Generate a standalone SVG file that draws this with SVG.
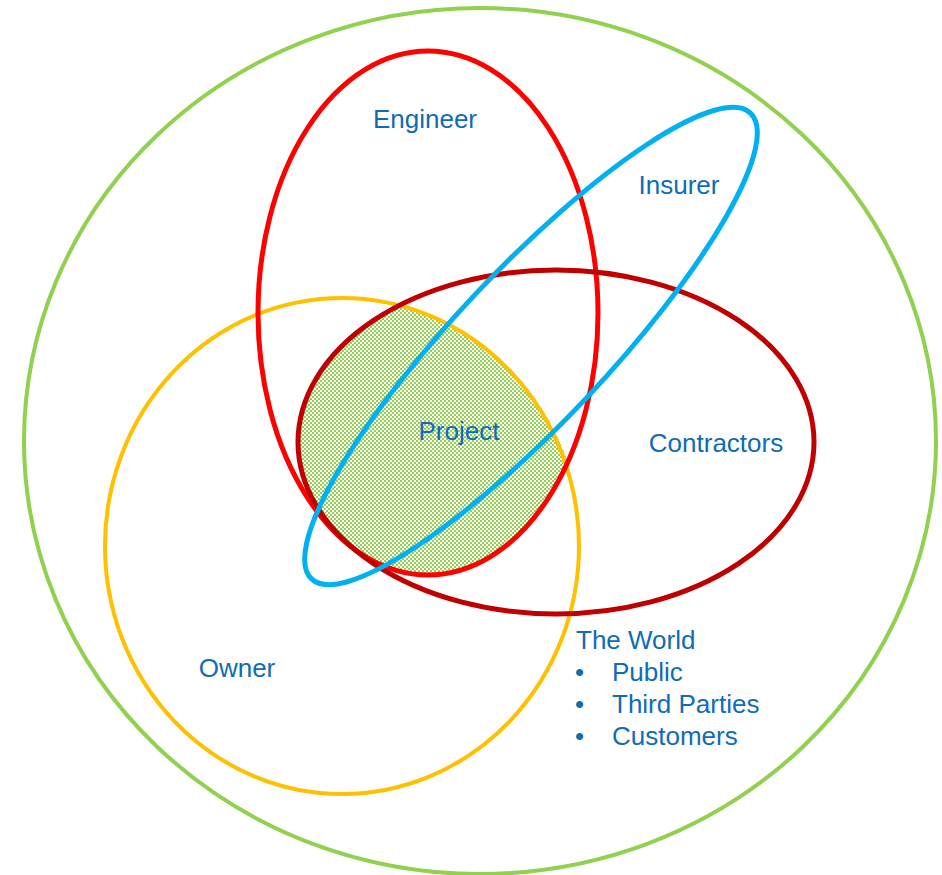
<svg xmlns="http://www.w3.org/2000/svg" width="942" height="875" viewBox="0 0 942 875">
<style>
.ring{fill:none;}
.lbl{font-family:"Liberation Sans",Arial,sans-serif;font-size:26px;fill:#0F6CB6;}
</style>
<defs>
<pattern id="chk" width="4" height="4" patternUnits="userSpaceOnUse">
<rect x="0" y="0" width="2" height="2" fill="#92D050"/>
<rect x="2" y="2" width="2" height="2" fill="#92D050"/>
</pattern>
<clipPath id="cEng"><ellipse cx="428" cy="313" rx="170" ry="262"/></clipPath>
<clipPath id="cCon"><ellipse cx="556" cy="442" rx="258" ry="172"/></clipPath>
<clipPath id="cOwn"><ellipse cx="342" cy="546" rx="240" ry="248"/></clipPath>
</defs>
<rect width="942" height="875" fill="#FFFFFF"/>
<g id="world">
<ellipse class="ring" cx="480" cy="441" rx="456" ry="433" stroke="#92D050" stroke-width="4"/>
</g>
<g id="project-area" clip-path="url(#cEng)">
<g clip-path="url(#cCon)">
<g clip-path="url(#cOwn)">
<rect x="250" y="250" width="400" height="400" fill="url(#chk)"/>
</g>
</g>
</g>
<g id="owner">
<ellipse class="ring" cx="342" cy="546" rx="237" ry="248" stroke="#FFC000" stroke-width="4"/>
</g>
<g id="engineer">
<ellipse class="ring" cx="428" cy="313" rx="170" ry="262" stroke="#FF0000" stroke-width="5"/>
</g>
<g id="contractors">
<ellipse class="ring" cx="556" cy="442" rx="258" ry="172" stroke="#C00000" stroke-width="5"/>
</g>
<g id="insurer">
<ellipse class="ring" cx="531" cy="346" rx="320" ry="76" transform="rotate(-46.7 531 346)" stroke="#00B0F0" stroke-width="5"/>
</g>
<g id="labels">
<text class="lbl" x="425" y="128" text-anchor="middle">Engineer</text>
<text class="lbl" x="679" y="194" text-anchor="middle">Insurer</text>
<text class="lbl" x="459" y="440" text-anchor="middle">Project</text>
<text class="lbl" x="716" y="452" text-anchor="middle">Contractors</text>
<text class="lbl" x="237" y="677" text-anchor="middle">Owner</text>
<text class="lbl" x="576" y="649">The World</text>
<text class="lbl" x="575" y="681">•</text>
<text class="lbl" x="612" y="681">Public</text>
<text class="lbl" x="575" y="713">•</text>
<text class="lbl" x="612" y="713">Third Parties</text>
<text class="lbl" x="575" y="745">•</text>
<text class="lbl" x="612" y="745">Customers</text>
</g>
</svg>
